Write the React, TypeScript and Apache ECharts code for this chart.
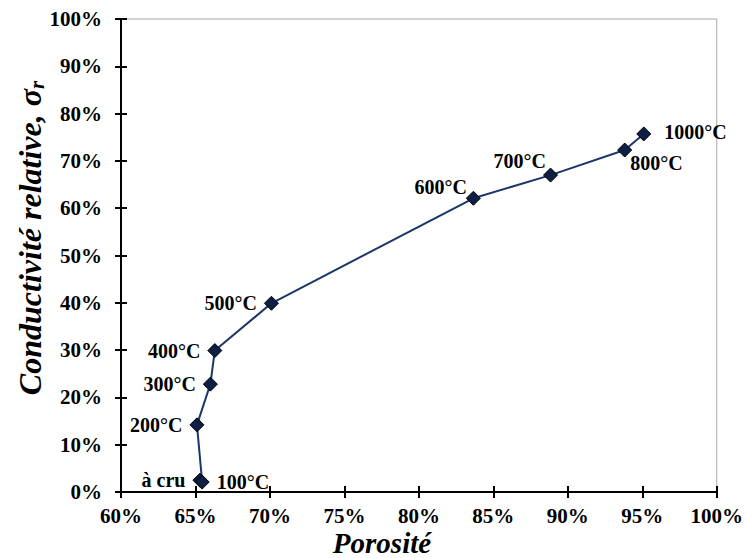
import React, { useEffect, useRef } from "react";
import * as echarts from "echarts";

const labels = ["à cru", "100°C", "200°C", "300°C", "400°C", "500°C", "600°C", "700°C", "800°C", "1000°C"];
const porosity = [65.3, 65.45, 65.1, 66.0, 66.3, 70.1, 83.66, 88.84, 93.82, 95.1];
const conductivity = [2.5, 2.1, 14.2, 22.8, 29.9, 39.9, 62.1, 67.0, 72.3, 75.7];
const labelPlacement: [string, number, number][] = [
  ["left", 0, 0],
  ["right", 0, 0],
  ["left", 0, 0],
  ["left", 0, 0],
  ["left", 0, 0],
  ["left", 0, 0],
  ["left", 8, -11],
  ["left", 10, -14],
  ["right", -9, 13],
  ["right", 6, -2],
];

const FONT = '"Liberation Serif", "Times New Roman", serif';

export default function App() {
  const ref = useRef<HTMLDivElement>(null);
  useEffect(() => {
    if (!ref.current) return;
    const chart = echarts.init(ref.current, undefined, { renderer: "svg" });
    const data = porosity.map((x, i) => ({
      value: [x, conductivity[i]],
      label: {
        show: true,
        formatter: labels[i],
        position: labelPlacement[i][0],
        offset: [labelPlacement[i][1], labelPlacement[i][2]],
        distance: 7,
        fontFamily: FONT,
        fontWeight: "bold",
        fontSize: 20,
        color: "#000",
      },
    }));
    const tickLabel = { fontFamily: FONT, fontWeight: "bold", fontSize: 21, color: "#000" };
    chart.setOption({
      animation: false,
      backgroundColor: "#fff",
      grid: {
        left: 121,
        right: 29,
        top: 19,
        bottom: 66,
        show: true,
        borderColor: "#a6a6a6",
        borderWidth: 1,
      },
      xAxis: [
        {
          type: "value",
          min: 60,
          max: 100,
          interval: 5,
          position: "bottom",
          axisLine: { show: true, lineStyle: { color: "#000", width: 2 } },
          axisTick: { show: true, length: 6, lineStyle: { color: "#000", width: 2 } },
          axisLabel: { ...tickLabel, margin: 13, formatter: "{value}%" },
          splitLine: { show: false },
        },
        {
          type: "value",
          min: 60,
          max: 100,
          interval: 5,
          position: "bottom",
          offset: 0,
          axisLine: { show: false },
          axisTick: { show: true, inside: true, length: 6, lineStyle: { color: "#000", width: 2 } },
          axisLabel: { show: false },
          splitLine: { show: false },
        },
      ],
      yAxis: [
        {
          type: "value",
          min: 0,
          max: 100,
          interval: 10,
          position: "left",
          axisLine: { show: true, lineStyle: { color: "#000", width: 2 } },
          axisTick: { show: true, length: 6, lineStyle: { color: "#000", width: 2 } },
          axisLabel: { ...tickLabel, margin: 19, formatter: "{value}%" },
          splitLine: { show: false },
        },
        {
          type: "value",
          min: 0,
          max: 100,
          interval: 10,
          position: "left",
          offset: 0,
          axisLine: { show: false },
          axisTick: { show: true, inside: true, length: 6, lineStyle: { color: "#000", width: 2 } },
          axisLabel: { show: false },
          splitLine: { show: false },
        },
      ],
      graphic: [
        {
          type: "text",
          x: 382,
          y: 543,
          style: {
            text: "Porosité",
            font: `italic bold 29px ${FONT}`,
            fill: "#000",
            align: "center",
            verticalAlign: "middle",
          },
        },
        {
          type: "text",
          x: 30,
          y: 238,
          rotation: Math.PI / 2,
          style: {
            text: "Conductivité relative, σ{sub|r}",
            font: `italic bold 32px ${FONT}`,
            fill: "#000",
            align: "center",
            verticalAlign: "middle",
            rich: {
              sub: {
                font: `italic bold 21px ${FONT}`,
                fill: "#000",
                padding: [14, 0, 0, 0],
              },
            },
          },
        },
      ],
      series: [
        {
          type: "line",
          xAxisIndex: 0,
          yAxisIndex: 0,
          data,
          symbol: "diamond",
          symbolSize: 14,
          lineStyle: { color: "#1b3668", width: 2 },
          itemStyle: { color: "#0e1f45", borderColor: "#000", borderWidth: 1 },
          z: 5,
        },
      ],
    });
    return () => chart.dispose();
  }, []);
  return (
    <div
      ref={ref}
      style={{ position: "fixed", left: 0, top: 0, width: 746, height: 558, background: "#fff" }}
    />
  );
}
